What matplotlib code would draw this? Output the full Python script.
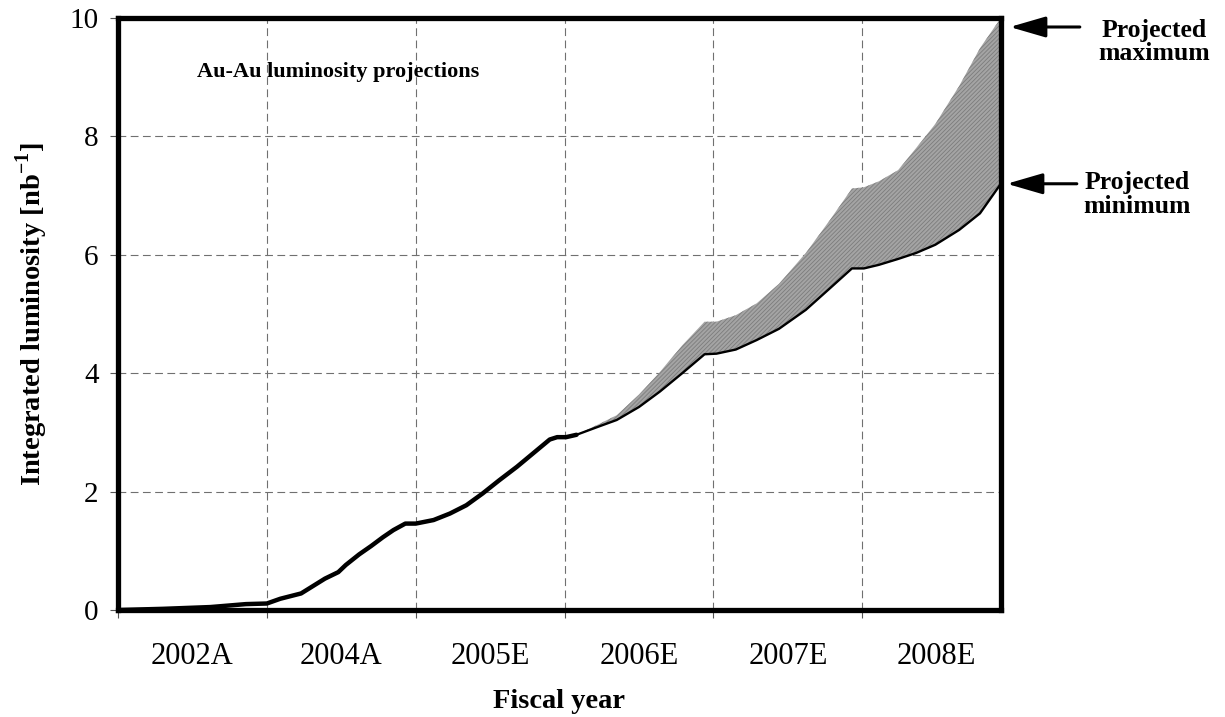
import matplotlib
matplotlib.use("Agg")
import matplotlib.pyplot as plt
import numpy as np
from matplotlib.transforms import offset_copy

plt.rcParams['font.family'] = ['Liberation Serif', 'DejaVu Serif']
plt.rcParams['mathtext.fontset'] = 'custom'
plt.rcParams['mathtext.rm'] = 'Liberation Serif'
plt.rcParams['mathtext.bf'] = 'Liberation Serif:bold'
plt.rcParams['hatch.linewidth'] = 0.6

# ---- data ----
categories = ["2002A", "2004A", "2005E", "2006E", "2007E", "2008E"]
x_end = 5.93  # axis ends a bit before the end of FY2008

time_pos = [0.0, 0.3, 0.62, 0.86, 1.0, 1.09, 1.23, 1.39, 1.48, 1.53, 1.62, 1.70,
            1.78, 1.85, 1.93, 2.0, 2.12, 2.23, 2.34, 2.45, 2.56, 2.68, 2.79, 2.90,
            2.95, 3.01, 3.08, 3.23, 3.35, 3.50, 3.64, 3.79, 3.94, 4.02, 4.15, 4.29,
            4.44, 4.62, 4.78, 4.93, 5.01, 5.11, 5.24, 5.36, 5.49, 5.65, 5.79, 5.93]

lumi_min = [0.0, 0.02, 0.05, 0.10, 0.11, 0.19, 0.28, 0.53, 0.64, 0.76, 0.94, 1.08,
            1.23, 1.35, 1.46, 1.46, 1.52, 1.63, 1.77, 1.97, 2.19, 2.42, 2.65, 2.88,
            2.92, 2.92, 2.96, 3.10, 3.21, 3.43, 3.69, 4.00, 4.32, 4.33, 4.40, 4.56,
            4.75, 5.07, 5.43, 5.77, 5.77, 5.83, 5.93, 6.03, 6.17, 6.42, 6.70, 7.20]

lumi_max = [0.0, 0.02, 0.05, 0.10, 0.11, 0.19, 0.28, 0.53, 0.64, 0.76, 0.94, 1.08,
            1.23, 1.35, 1.46, 1.46, 1.52, 1.63, 1.77, 1.97, 2.19, 2.42, 2.65, 2.88,
            2.92, 2.92, 2.96, 3.14, 3.29, 3.64, 4.02, 4.47, 4.87, 4.87, 4.98, 5.18,
            5.51, 6.03, 6.58, 7.12, 7.14, 7.24, 7.43, 7.80, 8.21, 8.85, 9.49, 10.0]

y_ticks = [0, 2, 4, 6, 8, 10]

# ---- figure ----
fig = plt.figure(figsize=(12.25, 7.17), dpi=100)
ax = fig.add_axes([0.0963, 0.1492, 0.7207, 0.8257])

t = np.array(time_pos)
lo = np.array(lumi_min)
hi = np.array(lumi_max)

ax.fill_between(t, lo, hi, facecolor='#a4a4a4', edgecolor='#7c7c7c',
                hatch='////////', linewidth=0, zorder=2)

same = (hi - lo) < 1e-6
ax.plot(t, lo, color='black', lw=1.7, zorder=3, solid_joinstyle='round')
ax.plot(t[same], lo[same], color='black', lw=3.2, zorder=3, solid_joinstyle='round',
        solid_capstyle='round')

ax.set_xlim(0, x_end)
ax.set_ylim(0, 10)

ax.set_xticks(np.arange(len(categories)) + 0.5)
ax.set_xticklabels(categories)
ax.set_xticks(np.arange(0, len(categories)), minor=True)
ax.tick_params(axis='x', which='major', length=0, pad=23, labelsize=22)
ax.tick_params(axis='x', which='minor', length=6, width=0.8, color='#555555', direction='out')
ax.set_yticks(y_ticks)
ax.tick_params(axis='y', which='major', length=6, width=0.8, color='#555555',
               direction='out', labelsize=21, pad=8)

ax.grid(True, axis='y', which='major', color='#707070', lw=0.8, ls=(0, (7, 4)), zorder=1)
ax.grid(True, axis='x', which='minor', color='#707070', lw=0.8, ls=(0, (7, 4)), zorder=1)
ax.set_axisbelow(True)

for s in ax.spines.values():
    s.set_linewidth(3.8)
    s.set_color('black')
    s.set_zorder(4)

ax.set_xlabel('Fiscal year', fontsize=20.5, fontweight='bold', labelpad=13)
ax.set_ylabel(r'Integrated luminosity [nb$^{\mathbf{-1}}$]', fontsize=20.5,
              fontweight='bold', labelpad=14)

ax.text(0.089, 0.909, 'Au-Au luminosity projections', transform=ax.transAxes,
        fontsize=16, fontweight='bold', ha='left', va='center')

# ---- annotations at the end points ----
arrow_kw = dict(arrowstyle='-|>,head_length=1.1,head_width=0.32', color='black',
                lw=2.2, shrinkA=0, shrinkB=0, mutation_scale=20)

tr_max = offset_copy(ax.transData, fig=fig, x=9, y=-9, units='dots')
ax.annotate('', xy=(t[-1], hi[-1]), xycoords=tr_max, xytext=(70, 0),
            textcoords='offset pixels', arrowprops=arrow_kw, annotation_clip=False)
ax.annotate('Projected\nmaximum', xy=(t[-1], hi[-1]), xycoords='data',
            xytext=(153, -24), textcoords='offset pixels', ha='center', va='center',
            fontsize=18.5, fontweight='bold', linespacing=1.05, annotation_clip=False)

tr_min = offset_copy(ax.transData, fig=fig, x=6, y=0, units='dots')
ax.annotate('', xy=(t[-1], lo[-1]), xycoords=tr_min, xytext=(70, 0),
            textcoords='offset pixels', arrowprops=arrow_kw, annotation_clip=False)
ax.annotate('Projected\nminimum', xy=(t[-1], lo[-1]), xycoords='data',
            xytext=(136, -11), textcoords='offset pixels', ha='center', va='center',
            fontsize=18.5, fontweight='bold', linespacing=1.05, annotation_clip=False)

fig.savefig('out.png', dpi=100)
